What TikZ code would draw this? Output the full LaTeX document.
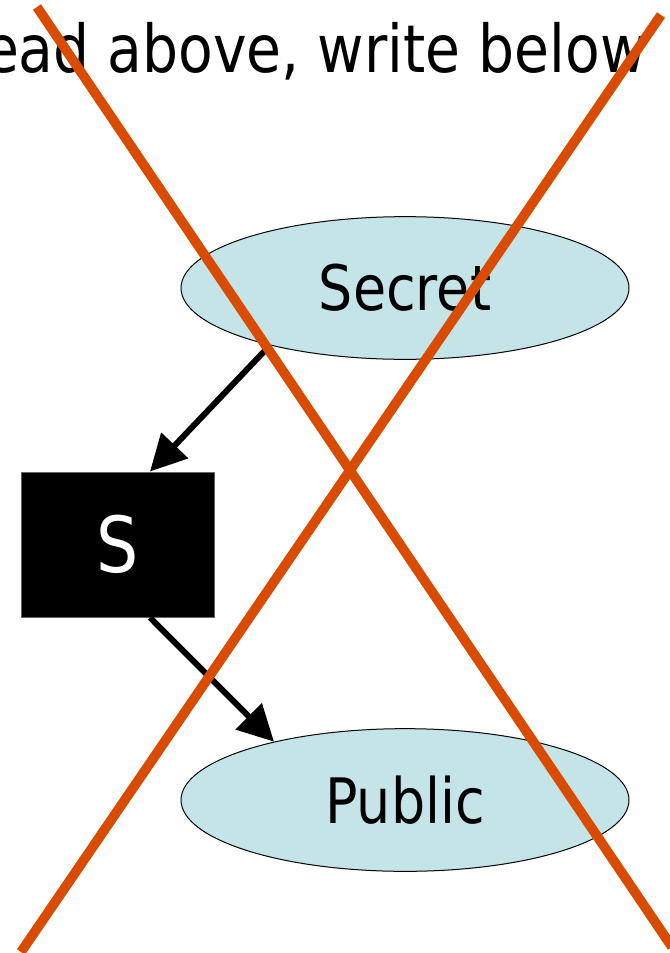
\documentclass[tikz,border=0pt]{standalone}
\usepackage{fontspec}
\setmainfont{DejaVu Sans}[FakeStretch=0.86]
\usetikzlibrary{arrows.meta,shapes.geometric}
\definecolor{levelfill}{RGB}{197,228,231}
\definecolor{crossorange}{RGB}{217,76,0}
\tikzset{every picture/.style={line width=0.75pt}}
\tikzset{
  level/.style={ellipse, draw=black, fill=levelfill, line width=0.75pt, minimum width=336pt, minimum height=107pt, inner sep=0pt, font=\fontsize{47}{56}\selectfont},
  subject/.style={rectangle, draw=black!60, fill=black, text=white, line width=0.5pt, minimum width=145pt, minimum height=109pt, inner sep=0pt, font=\fontsize{58}{68}\selectfont},
  flow/.style={line width=4.5pt, -{Triangle[length=27pt,width=27pt]}},
  cross/.style={color=crossorange, line width=7.3pt}
}

\begin{document}
\begin{tikzpicture}[x=0.75pt,y=0.75pt,yscale=-1,xscale=1]
\useasboundingbox (0,0) rectangle (670,953);
\clip (0,0) rectangle (670,953);

% Text Node
\node (title) [anchor=base east, inner sep=0pt, font=\fontsize{49.5}{58}\selectfont] at (647,72) {Read above, write below};
%Ellipses
\node (secret) [level] at (405,288) {Secret};
\node (public) [level] at (405,800) {Public};
%Rectangle
\node (sbox) [subject] at (117.5,544.5) {S};

%Straight Lines
\draw [flow] (secret.203) -- (sbox.66);
\draw [flow] (sbox.-66) -- (public.156);

%Straight Lines (the X)
\draw [cross] (37,7) -- (672,947);
\draw [cross] (661,15) -- (21,952);

\end{tikzpicture}
\end{document}
